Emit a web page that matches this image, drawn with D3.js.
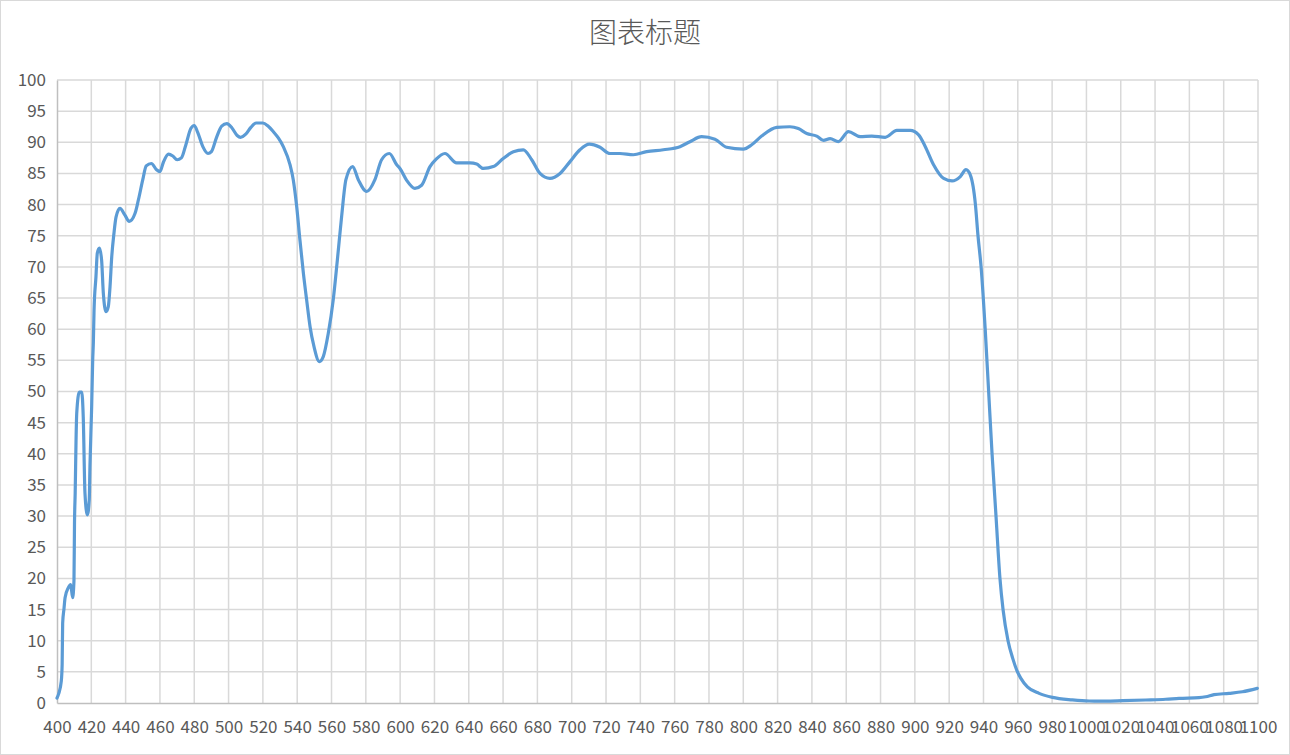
<!DOCTYPE html>
<html>
<head>
<meta charset="utf-8">
<script src="https://cdn.jsdelivr.net/npm/d3@7"></script>
<style>
  html, body { margin: 0; padding: 0; background: #fff; }
  svg { display: block; }
</style>
</head>
<body>
<svg id="chart" width="1290" height="755"></svg>
<script>
const title = "图表标题";
const wavelengths = [400,401,402.5,403,403.3,404.1,404.7,406.6,408,409.1,409.9,410.2,410.6,411.1,411.5,413,414.4,415.3,416.3,417.7,418.8,419.2,420.2,420.8,421.2,421.6,422.7,423.5,424.7,426,427,428.6,429.9,430.9,431.9,433.2,434.4,436.7,439.6,442.1,445.5,447.4,450,452,455,458,460,462,465,467.5,470,472.5,475,478,480,482,485,488,490,493,496,499,502,505,507,510,513,516,520,523,526.1,529,531.9,535.8,537.7,539.7,541.6,543.6,545.5,547.5,549.8,552.9,555.2,558.1,561,563.4,565.9,568.4,572.3,575.6,580.5,585.3,589.2,593.7,598,599.9,603.8,608.6,612.5,617.4,621,626.1,632.9,640.7,644.6,648.5,654.3,660.1,666,671.8,676.7,681.5,687.3,693.2,699,704.8,710.3,716.5,722.3,728.1,735.9,743.7,753.4,763.1,768.9,775.7,783.5,790.3,800,804.9,810.7,819.5,827.2,832.1,837,842.8,846.7,850.6,855.4,861.3,868.1,874.9,882.7,889.5,897.3,902.2,906.1,910.9,916.8,921.7,926.5,929.8,932.4,935.3,936.8,938.6,941,943,945,947.3,949.6,951.4,954.3,957,959.5,961.7,965.6,972.4,980.2,991.8,1001.6,1011.3,1021,1034.6,1046.2,1054,1065.6,1069.5,1074.4,1083.1,1090.9,1099.6];
const transmittance = [0.8,1.5,3.5,6.2,12.8,15.2,16.9,18.5,19.0,16.9,19.7,28.9,33.7,42.2,46.5,49.9,49.9,45.9,33.7,30.2,32.6,37.9,47.5,55,58,63.1,68.4,72.2,73,71.1,65.8,62.8,63.6,66.8,71.6,75.4,78,79.4,78.3,77.3,78.6,80.7,84,86.2,86.6,85.6,85.3,86.8,88.1,87.8,87.2,87.5,89.5,92.2,92.7,91.6,89.3,88.2,88.5,90.8,92.6,93.0,92.3,91.1,90.8,91.3,92.4,93.1,93.1,92.6,91.7,90.7,89.3,86.4,84,79.7,74.3,69,64.7,60.4,57.2,54.8,55.6,59.3,64.7,71.1,78.1,84,86.1,84,82.1,84,87.2,88.2,86.4,85.8,83.9,82.6,83.1,86.1,87.3,88.2,86.7,86.7,86.5,85.8,86.1,87.4,88.5,88.8,87.2,85,84.2,85,86.9,88.8,89.7,89.2,88.2,88.2,88,88.5,88.8,89.3,90.1,90.9,90.5,89.2,88.9,89.6,91,92.4,92.5,92.2,91.4,91,90.3,90.6,90.1,91.7,90.9,91,90.8,91.9,91.9,91.2,89.3,86.4,84.2,83.8,84.5,85.6,84.7,80,75,70,60,50,40,30,20,15,10,7.2,5.2,4.0,2.6,1.55,0.9,0.5,0.32,0.3,0.37,0.48,0.6,0.75,0.86,1.0,1.34,1.55,1.8,2.35];
const xTicks = d3.range(400, 1101, 20);
const yTicks = d3.range(0, 101, 5);

const svg = d3.select("#chart");
const W = 1290, H = 755;
const plot = { left: 57, right: 1258, top: 80, bottom: 703 };

svg.append("rect").attr("x", 0.5).attr("y", 0.5).attr("width", W - 1).attr("height", H - 1)
  .attr("fill", "#fff").attr("stroke", "#d9d9d9");

const x = d3.scaleLinear().domain([400, 1100]).range([plot.left, plot.right]);
const y = d3.scaleLinear().domain([0, 100]).range([plot.bottom, plot.top]);

const font = "'Noto Sans CJK SC', 'Noto Sans', sans-serif";

// title
svg.append("text").attr("x", 645).attr("y", 35).attr("text-anchor", "middle")
  .attr("dominant-baseline", "middle")
  .attr("font-family", font).attr("font-size", 28).attr("font-weight", 300)
  .attr("fill", "#595959").text(title);

// grid
const grid = svg.append("g");
grid.selectAll("line.h").data(yTicks.filter(d => d > 0)).join("line")
  .attr("x1", plot.left).attr("x2", plot.right)
  .attr("y1", d => y(d)).attr("y2", d => y(d))
  .attr("stroke", "#d9d9d9").attr("stroke-width", 1.5);
grid.selectAll("line.v").data(xTicks.filter(d => d > 400)).join("line")
  .attr("y1", plot.top).attr("y2", plot.bottom)
  .attr("x1", d => x(d)).attr("x2", d => x(d))
  .attr("stroke", "#d9d9d9").attr("stroke-width", 1.5);

// axes
const xAxis = d3.axisBottom(x).tickValues(xTicks).tickSize(0).tickPadding(18).tickFormat(d3.format("d"));
const gx = svg.append("g").attr("transform", `translate(0,${plot.bottom})`).call(xAxis);
gx.select(".domain").attr("stroke", "#bfbfbf").attr("stroke-width", 1.5);
gx.selectAll("text").attr("font-family", font).attr("font-size", 17).attr("fill", "#595959");

const yAxis = d3.axisLeft(y).tickValues(yTicks).tickSize(0).tickPadding(11).tickFormat(d3.format("d"));
const gy = svg.append("g").attr("transform", `translate(${plot.left},0)`).call(yAxis);
gy.select(".domain").attr("stroke", "#bfbfbf").attr("stroke-width", 1.5);
gy.selectAll("text").attr("font-family", font).attr("font-size", 17).attr("fill", "#595959");

// line
const data = wavelengths.map((w, i) => [w, transmittance[i]]);
const line = d3.line().x(d => x(d[0])).y(d => y(d[1])).curve(d3.curveMonotoneX);
svg.append("path").datum(data).attr("d", line)
  .attr("fill", "none").attr("stroke", "#5b9bd5").attr("stroke-width", 3.2)
  .attr("stroke-linejoin", "round").attr("stroke-linecap", "round");
</script>
</body>
</html>
